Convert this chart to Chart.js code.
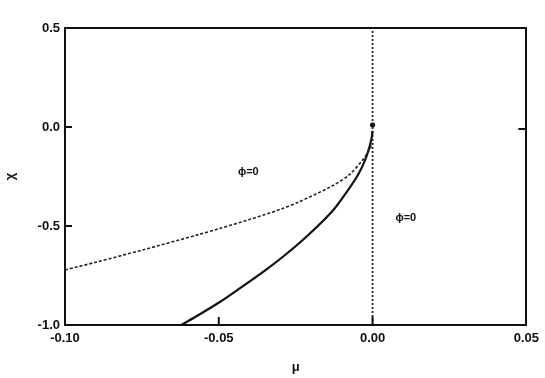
<!DOCTYPE html>
<html>
<head>
<meta charset="utf-8">
<script src="https://cdn.jsdelivr.net/npm/chart.js@4/dist/chart.umd.min.js"></script>
<style>
  html, body { margin: 0; padding: 0; background: #fff; }
  #wrap { width: 545px; height: 378px; position: relative; }
</style>
</head>
<body>
<div id="wrap"><canvas id="c"></canvas></div>
<script>
// ---- data ----
const dashedMu  = [-0.10, -0.09, -0.075, -0.0565, -0.05, -0.04, -0.03, -0.0239, -0.0132, -0.0077, -0.0034, -0.0012, 0];
const dashedChi = [-0.722, -0.683, -0.622, -0.543, -0.514, -0.467, -0.416, -0.378, -0.298, -0.243, -0.17, -0.12, -0.08];

const solidMu  = [-0.0622, -0.0563, -0.0498, -0.0455, -0.0347, -0.0239, -0.0131, -0.0077, -0.0044, -0.0023, -0.001, -0.0003, 0];
const solidChi = [-1.0, -0.947, -0.885, -0.84, -0.722, -0.587, -0.425, -0.312, -0.232, -0.162, -0.1, -0.055, -0.02];

const boundaryMu  = [0, 0];
const boundaryChi = [-1.0, 0.5];

const pointMu  = [0];
const pointChi = [0.01];

const xTicks = [-0.10, -0.05, 0.00, 0.05];
const yTicks = [0.5, 0.0, -0.5, -1.0];

const regionLabels = ['ϕ=0', 'ϕ=0'];
const regionMu  = [-0.0404, 0.0108];
const regionChi = [-0.227, -0.46];

const xTitle = 'μ';
const yTitle = 'χ';

// ---- build ----
const zip = (xs, ys) => xs.map((x, i) => ({ x: x, y: ys[i] }));
const FONT = "'Liberation Sans', Arial, sans-serif";

const innerTicks = {
  id: 'innerTicks',
  afterDraw(chart) {
    const { ctx, chartArea: a, scales } = chart;
    const xs = scales.x, ys = scales.y;
    ctx.save();
    ctx.strokeStyle = '#111';
    ctx.lineWidth = 2;
    ctx.beginPath();
    [-0.05, 0.0].forEach(v => {
      const px = xs.getPixelForValue(v);
      ctx.moveTo(px, a.bottom); ctx.lineTo(px, a.bottom - 8);
    });
    [0.0, -0.5].forEach(v => {
      const py = ys.getPixelForValue(v);
      ctx.moveTo(a.left, py); ctx.lineTo(a.left + 7, py);
    });
    {
      const py = ys.getPixelForValue(0.0) + 2;
      ctx.moveTo(a.right, py); ctx.lineTo(a.right - 8, py);
    }
    ctx.stroke();
    // region labels
    ctx.fillStyle = '#111';
    ctx.font = 'bold 11px ' + FONT;
    ctx.textAlign = 'center';
    ctx.textBaseline = 'middle';
    regionLabels.forEach((t, i) => {
      ctx.fillText(t, xs.getPixelForValue(regionMu[i]), ys.getPixelForValue(regionChi[i]));
    });
    ctx.restore();
  }
};

new Chart(document.getElementById('c'), {
  type: 'scatter',
  data: {
    datasets: [
      {
        data: zip(dashedMu, dashedChi), showLine: true, borderColor: '#222',
        borderWidth: 1.6, borderDash: [3, 2], pointRadius: 0, tension: 0.3, fill: false
      },
      {
        data: zip(solidMu, solidChi), showLine: true, borderColor: '#111',
        borderWidth: 2.2, pointRadius: 0, tension: 0.3, fill: false
      },
      {
        data: zip(boundaryMu, boundaryChi), showLine: true, borderColor: '#222',
        borderWidth: 1.8, borderDash: [2, 2], pointRadius: 0, fill: false
      },
      {
        data: zip(pointMu, pointChi), showLine: false, backgroundColor: '#111',
        borderColor: '#111', pointRadius: 2.2
      }
    ]
  },
  options: {
    responsive: true,
    maintainAspectRatio: false,
    animation: false,
    layout: { padding: { top: 28, right: 17, left: 0, bottom: 0 } },
    plugins: { legend: { display: false }, tooltip: { enabled: false } },
    scales: {
      x: {
        type: 'linear', position: 'bottom', min: -0.10, max: 0.05,
        afterBuildTicks: s => { s.ticks = xTicks.map(v => ({ value: v })); },
        afterFit: s => { s.height = 53; },
        grid: { display: false, drawTicks: false },
        border: { display: true, color: '#111', width: 2 },
        ticks: {
          color: '#111', padding: 6, maxRotation: 0, autoSkip: false,
          font: { family: FONT, size: 13, weight: 'bold' },
          callback: v => v.toFixed(2)
        },
        title: { display: true, text: xTitle, color: '#111', padding: { top: 0, bottom: 3 },
                 font: { family: FONT, size: 13, weight: 'bold' } }
      },
      y: {
        type: 'linear', position: 'left', min: -1.0, max: 0.5,
        afterBuildTicks: s => { s.ticks = yTicks.map(v => ({ value: v })); },
        afterFit: s => { s.width = 65; },
        grid: { display: false, drawTicks: false },
        border: { display: true, color: '#111', width: 2 },
        ticks: {
          color: '#111', padding: 5, autoSkip: false,
          font: { family: FONT, size: 13, weight: 'bold' },
          callback: v => v.toFixed(1)
        },
        title: { display: true, text: yTitle, color: '#111', padding: { top: 3, bottom: 0 },
                 font: { family: FONT, size: 13, weight: 'bold' } }
      },
      x2: {
        type: 'linear', position: 'top', min: -0.10, max: 0.05,
        afterFit: s => { s.height = 0; },
        grid: { display: false, drawTicks: false },
        border: { display: true, color: '#111', width: 2 },
        ticks: { display: false }
      },
      y2: {
        type: 'linear', position: 'right', min: -1.0, max: 0.5,
        afterFit: s => { s.width = 0; },
        grid: { display: false, drawTicks: false },
        border: { display: true, color: '#111', width: 2 },
        ticks: { display: false }
      }
    }
  },
  plugins: [innerTicks]
});
</script>
</body>
</html>
